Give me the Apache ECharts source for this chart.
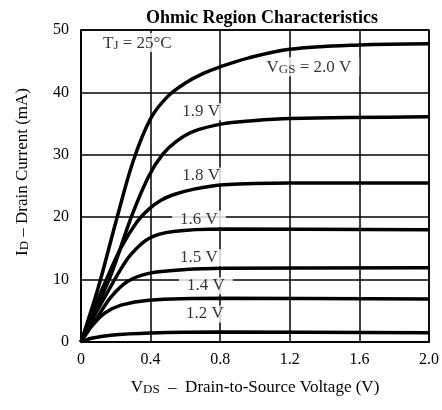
<!DOCTYPE html>
<html>
<head>
<meta charset="utf-8">
<script src="https://cdn.jsdelivr.net/npm/echarts@6/dist/echarts.min.js"></script>
<style>
  html, body { margin: 0; padding: 0; background: #fff; }
  #chart { width: 442px; height: 410px; }
</style>
</head>
<body>
<div id="chart"></div>
<script>
// tick labels
const xTickLabels = ['0', '0.4', '0.8', '1.2', '1.6', '2.0']
const yTickLabels = ['0', '10', '20', '30', '40', '50']

// drain current curves (VDS in V, ID in mA)
const vgs20 = [[0, 0], [0.1, 8.8], [0.2, 19.2], [0.3, 29.0], [0.4, 35.8], [0.5, 39.4], [0.6, 41.5], [0.7, 43.0], [0.8, 44.1], [0.96, 45.5], [1.2, 46.9], [1.6, 47.6], [2.0, 47.8]]
const vgs19 = [[0, 0], [0.08, 5.0], [0.17, 10.6], [0.29, 20.1], [0.39, 26.6], [0.47, 30.1], [0.55, 32.2], [0.65, 33.8], [0.82, 35.0], [0.96, 35.4], [1.2, 35.8], [2.0, 36.1]]
const vgs18 = [[0, 0], [0.07, 5.0], [0.144, 9.9], [0.23, 15.1], [0.32, 19.2], [0.39, 21.3], [0.46, 22.7], [0.53, 23.6], [0.65, 24.5], [0.82, 25.2], [1.2, 25.5], [2.0, 25.5]]
const vgs16 = [[0, 0], [0.06, 3.4], [0.135, 7.1], [0.21, 10.8], [0.286, 14.0], [0.39, 16.6], [0.53, 17.7], [0.82, 18.1], [2.0, 18.0]]
const vgs15 = [[0, 0], [0.05, 2.2], [0.097, 4.1], [0.172, 7.2], [0.267, 9.7], [0.39, 11.0], [0.6, 11.6], [0.82, 11.8], [2.0, 11.9]]
const vgs14 = [[0, 0], [0.03, 1.3], [0.06, 2.5], [0.135, 4.6], [0.23, 5.9], [0.39, 6.7], [0.82, 7.0], [2.0, 6.9]]
const vgs12 = [[0, 0], [0.06, 0.6], [0.17, 1.1], [0.4, 1.45], [0.8, 1.6], [2.0, 1.5]]

const curves = [vgs20, vgs19, vgs18, vgs16, vgs15, vgs14, vgs12]

// curve labels and where they sit (data coords)
const curveLabels = ['{t|V}{s|GS}{t| = 2.0 V}', '1.9 V', '1.8 V', '1.6 V', '1.5 V', '1.4 V', '1.2 V', '{t|T}{s|J}{t| = 25°C}']
const curveLabelPos = [[1.31, 44.1], [0.69, 36.9], [0.69, 26.6], [0.678, 19.7], [0.678, 13.5], [0.718, 9.0], [0.712, 4.5], [0.324, 48.0]]

const FONT = '"Liberation Serif", "DejaVu Serif", serif'

const labelRich = {
  t: { fontSize: 17, fontFamily: FONT, color: '#000', lineHeight: 19, verticalAlign: 'bottom' },
  s: { fontSize: 13, fontFamily: FONT, color: '#000', lineHeight: 13, verticalAlign: 'bottom', padding: [8, 0, 0, 0] },
}
const nameRich = {
  t: { fontSize: 17, fontFamily: FONT, color: '#000', lineHeight: 20, verticalAlign: 'bottom' },
  s: { fontSize: 13, fontFamily: FONT, color: '#000', lineHeight: 13, verticalAlign: 'bottom', padding: [8, 0, 0, 0] },
}

let myChart = echarts.init(document.getElementById('chart'))

let series = curves.map((c) => ({
  type: 'line',
  data: c,
  smooth: 0.35,
  showSymbol: false,
  symbol: 'none',
  z: 3,
  lineStyle: { color: '#000', width: 3.5 },
}))

series.push({
  type: 'scatter',
  symbolSize: 0,
  z: 2,
  silent: true,
  data: curveLabelPos.map((p, i) => ({ value: p, name: curveLabels[i] })),
  label: {
    show: true,
    position: 'inside',
    formatter: (p) => p.name,
    fontSize: 17,
    fontFamily: FONT,
    color: '#000',
    backgroundColor: '#fff',
    padding: [0, 8],
    rich: labelRich,
  },
})

myChart.setOption({
  animation: false,
  backgroundColor: '#fff',
  title: {
    text: 'Ohmic Region Characteristics',
    left: 257,
    top: 4,
    textAlign: 'center',
    textStyle: { fontFamily: FONT, fontWeight: 'bold', fontSize: 18, color: '#000' },
  },
  grid: {
    left: 81,
    right: 8,
    top: 30,
    bottom: 68,
    show: true,
    borderColor: '#000',
    borderWidth: 1.5,
  },
  xAxis: {
    type: 'value',
    min: 0,
    max: 2,
    interval: 0.4,
    axisLine: { show: true, lineStyle: { color: '#000', width: 1.5 } },
    axisTick: { show: false },
    splitLine: { show: true, lineStyle: { color: '#000', width: 1.5 } },
    axisLabel: {
      margin: 10,
      fontSize: 16,
      fontFamily: FONT,
      color: '#000',
      formatter: (v, i) => xTickLabels[i],
    },
    name: '{t|V}{s|DS}{t|  –  Drain-to-Source Voltage (V)}',
    nameLocation: 'middle',
    nameGap: 34,
    nameTextStyle: { rich: nameRich },
  },
  yAxis: {
    type: 'value',
    min: 0,
    max: 50,
    interval: 10,
    axisLine: { show: true, lineStyle: { color: '#000', width: 1.5 } },
    axisTick: { show: false },
    splitLine: { show: true, lineStyle: { color: '#000', width: 1.5 } },
    axisLabel: {
      margin: 12,
      fontSize: 16,
      fontFamily: FONT,
      color: '#000',
      formatter: (v, i) => yTickLabels[i],
    },
    name: '{t|I}{s|D}{t| – Drain Current (mA)}',
    nameLocation: 'middle',
    nameGap: 50,
    nameTextStyle: { rich: nameRich, padding: [0, 0, 0, 28] },
  },
  series: series,
})
</script>
</body>
</html>
